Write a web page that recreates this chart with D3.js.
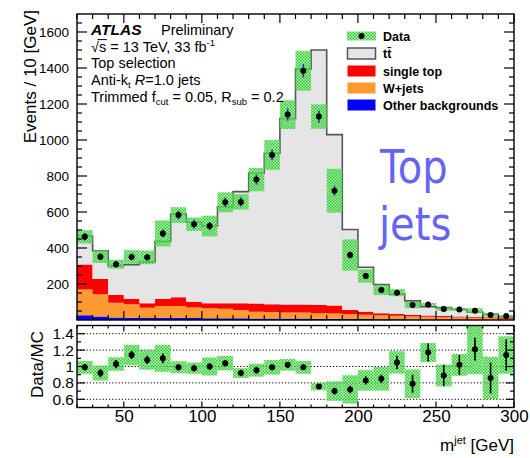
<!DOCTYPE html>
<html>
<head>
<meta charset="utf-8">
<script src="https://cdn.jsdelivr.net/npm/d3@7"></script>
<style>
  body { margin: 0; background: #fff; }
  svg { display: block; }
  text { font-family: "Liberation Sans", Arial, Helvetica, sans-serif; fill: #000; }
</style>
</head>
<body>
<svg id="chart" width="530" height="458"></svg>
<script>
// Large-R jet mass, top selection: 10 GeV bins from 20 to 300 GeV
const binLow = [20, 30, 40, 50, 60, 70, 80, 90, 100, 110, 120, 130, 140, 150,
                160, 170, 180, 190, 200, 210, 220, 230, 240, 250, 260, 270, 280, 290];
const binWidth = 10;

// Observed events per bin and statistical uncertainty
const dataCounts = [462, 352, 310, 350, 348, 481, 583, 532, 522, 654, 656, 780, 917, 1141,
                    1385, 1130, 718, 361, 244, 167, 152, 84, 86, 61, 59, 52, 28, 22];
const dataErr = [21, 19, 18, 19, 19, 22, 24, 23, 23, 26, 26, 28, 30, 34,
                 37, 34, 27, 19, 16, 13, 12, 9, 9, 8, 8, 7, 5, 5];
// Relative systematic uncertainty (hatched band)
const systFrac = [0.08, 0.10, 0.08, 0.11, 0.11, 0.15, 0.075, 0.07, 0.11, 0.085, 0.065, 0.083, 0.09, 0.07,
                  0.08, 0.06, 0.17, 0.24, 0.15, 0.17, 0.13, 0.22, 0.10, 0.15, 0.13, 0.25, 0.30, 0.20];

// Simulated processes (stacked bottom to top: other, W+jets, single top, ttbar)
const otherBkg = [26, 20, 14, 12, 11, 12, 12, 11, 10, 10, 10, 9, 9, 8,
                  8, 7, 7, 6, 5, 4, 4, 3, 3, 3, 2, 2, 2, 1];
const wJets = [144, 123, 82, 75, 57, 66, 66, 59, 55, 52, 45, 37, 36, 34,
               34, 31, 29, 26, 24, 22, 20, 17, 15, 13, 12, 10, 9, 6];
const singleTop = [139, 85, 43, 30, 25, 39, 48, 32, 28, 31, 38, 46, 43, 44,
                   44, 45, 45, 24, 17, 11, 10, 8, 7, 6, 5, 5, 4, 5];
const ttbar = [158, 157, 163, 190, 229, 320, 463, 441, 429, 536, 620, 725, 838, 1033,
               1309, 1417, 949, 447, 247, 160, 111, 78, 49, 47, 39, 26, 18, 7];

// Data / MC ratio and its statistical uncertainty
const ratio = [0.99, 0.92, 1.03, 1.14, 1.08, 1.10, 0.99, 0.98, 1.00, 1.04, 0.92, 0.955, 0.99, 1.02,
               0.99, 0.755, 0.70, 0.72, 0.83, 0.85, 1.05, 0.79, 1.17, 0.89, 1.02, 1.21, 0.86, 1.14];
const ratioErr = [0.04, 0.05, 0.05, 0.05, 0.05, 0.06, 0.04, 0.04, 0.04, 0.04, 0.04, 0.04, 0.035, 0.035,
                  0.03, 0.03, 0.04, 0.045, 0.05, 0.05, 0.08, 0.11, 0.11, 0.13, 0.12, 0.14, 0.19, 0.19];

// Axis ticks
const xMajorTicks = [50, 100, 150, 200, 250, 300];
const yMainTicks = [200, 400, 600, 800, 1000, 1200, 1400, 1600];
const yRatioTicks = [0.6, 0.8, 1, 1.2, 1.4];
const yRatioLabels = ["0.6", "0.8", "1", "1.2", "1.4"];

const processes = [
  { name: "Other backgrounds", values: otherBkg, color: "#0000ff" },
  { name: "W+jets", values: wJets, color: "#ff9a33" },
  { name: "single top", values: singleTop, color: "#ff0000" },
  { name: "ttbar", values: ttbar, color: "#e5e5e5" }
];

const svg = d3.select("#chart");
const X0 = 77, X1 = 514;
const MAIN_TOP = 14, MAIN_BOT = 320;
const RAT_TOP = 325.5, RAT_BOT = 407.5;

const x = d3.scaleLinear().domain([20, 300]).range([X0, X1]);
const y = d3.scaleLinear().domain([0, 1700]).range([MAIN_BOT, MAIN_TOP]);
const yr = d3.scaleLinear().domain([0.5, 1.5]).range([RAT_BOT, RAT_TOP]);

const defs = svg.append("defs");
const pat = defs.append("pattern").attr("id", "hatch")
  .attr("width", 3).attr("height", 3).attr("patternUnits", "userSpaceOnUse");
pat.append("rect").attr("width", 3).attr("height", 3).attr("fill", "rgba(150,235,150,0.6)");
pat.append("rect").attr("width", 1.5).attr("height", 1.5).attr("fill", "#27cc27");
pat.append("rect").attr("x", 1.5).attr("y", 1.5).attr("width", 1.5).attr("height", 1.5).attr("fill", "#27cc27");

defs.append("clipPath").attr("id", "clipMain").append("rect")
  .attr("x", X0).attr("y", MAIN_TOP).attr("width", X1 - X0).attr("height", MAIN_BOT - MAIN_TOP);
defs.append("clipPath").attr("id", "clipRatio").append("rect")
  .attr("x", X0).attr("y", RAT_TOP).attr("width", X1 - X0).attr("height", RAT_BOT - RAT_TOP);

// ---------- main pad ----------
const main = svg.append("g").attr("clip-path", "url(#clipMain)");

// cumulative stack
const stackRows = binLow.map((b, i) => {
  const row = { low: b };
  processes.forEach(p => { row[p.name] = p.values[i]; });
  return row;
});
const stacked = d3.stack().keys(processes.map(p => p.name))(stackRows);

function stepPoints(layer) {
  const pts = layer.map((d, i) => ({ x: binLow[i], y0: d[0], y1: d[1] }));
  const last = pts[pts.length - 1];
  pts.push({ x: binLow[binLow.length - 1] + binWidth, y0: last.y0, y1: last.y1 });
  return pts;
}

const area = d3.area().curve(d3.curveStepAfter)
  .x(d => x(d.x)).y0(d => y(d.y0)).y1(d => y(d.y1));

stacked.forEach((layer, k) => {
  main.append("path").attr("d", area(stepPoints(layer)))
    .attr("fill", processes[k].color).attr("stroke", "none");
});

// total prediction outline
const totalLayer = stacked[stacked.length - 1];
const outline = d3.line().curve(d3.curveStepAfter).x(d => x(d.x)).y(d => y(d.y1));
main.append("path").attr("d", outline(stepPoints(totalLayer)))
  .attr("fill", "none").attr("stroke", "#555").attr("stroke-width", 1.6);

// data uncertainty band
main.selectAll("rect.band").data(dataCounts).join("rect")
  .attr("class", "band")
  .attr("x", (d, i) => x(binLow[i]))
  .attr("width", (d, i) => x(binLow[i] + binWidth) - x(binLow[i]))
  .attr("y", (d, i) => y(d * (1 + systFrac[i])))
  .attr("height", (d, i) => y(d * (1 - systFrac[i])) - y(d * (1 + systFrac[i])))
  .attr("fill", "url(#hatch)");

// ---------- ratio pad ----------
const rat = svg.append("g").attr("clip-path", "url(#clipRatio)");
rat.selectAll("line.grid").data(yRatioTicks).join("line")
  .attr("x1", X0).attr("x2", X1).attr("y1", d => yr(d)).attr("y2", d => yr(d))
  .attr("stroke", "#000").attr("stroke-width", 1).attr("stroke-dasharray", "1.2,2");

rat.selectAll("rect.band").data(ratio).join("rect")
  .attr("x", (d, i) => x(binLow[i]))
  .attr("width", (d, i) => x(binLow[i] + binWidth) - x(binLow[i]))
  .attr("y", (d, i) => yr(d * (1 + systFrac[i])))
  .attr("height", (d, i) => yr(d * (1 - systFrac[i])) - yr(d * (1 + systFrac[i])))
  .attr("fill", "url(#hatch)");

// ---------- axes: ROOT style inward ticks on all sides ----------
function ticksX(g, top, bottom, majLen, minLen, minorVals) {
  minorVals.forEach(v => {
    const isMaj = xMajorTicks.includes(v);
    const L = isMaj ? majLen : minLen;
    g.append("line").attr("x1", x(v)).attr("x2", x(v)).attr("y1", bottom).attr("y2", bottom - L);
    g.append("line").attr("x1", x(v)).attr("x2", x(v)).attr("y1", top).attr("y2", top + L);
  });
}
function ticksY(g, scale, vals, majVals, majLen, minLen) {
  vals.forEach(v => {
    const isMaj = majVals.some(m => Math.abs(m - v) < 1e-6);
    const L = isMaj ? majLen : minLen;
    const yy = scale(v);
    g.append("line").attr("x1", X0).attr("x2", X0 + L).attr("y1", yy).attr("y2", yy);
    g.append("line").attr("x1", X1).attr("x2", X1 - L).attr("y1", yy).attr("y2", yy);
  });
}
const axes = svg.append("g").attr("stroke", "#000").attr("stroke-width", 1.2);
const minorX = binLow.concat([300]);
ticksX(axes, MAIN_TOP, MAIN_BOT, 9, 5, minorX);
ticksX(axes, RAT_TOP, RAT_BOT, 6, 3, minorX);
ticksY(axes, y, d3.range(50, 1700, 50), yMainTicks, 10, 5);
ticksY(axes, yr, [0.6, 0.7, 0.8, 0.9, 1.0, 1.1, 1.2, 1.3, 1.4], yRatioTicks, 8, 4);

// frames
svg.append("rect").attr("x", X0).attr("y", MAIN_TOP).attr("width", X1 - X0).attr("height", MAIN_BOT - MAIN_TOP)
  .attr("fill", "none").attr("stroke", "#000").attr("stroke-width", 1.4);
svg.append("rect").attr("x", X0).attr("y", RAT_TOP).attr("width", X1 - X0).attr("height", RAT_BOT - RAT_TOP)
  .attr("fill", "none").attr("stroke", "#000").attr("stroke-width", 1.4);

// tick labels via d3 axes (labels only; ticks are drawn above)
const yAxisMain = d3.axisLeft(y).tickValues(yMainTicks).tickSize(0).tickPadding(8).tickFormat(d3.format("d"));
svg.append("g").attr("transform", `translate(${X0},0)`).call(yAxisMain)
  .call(g => g.select(".domain").remove())
  .selectAll("text").attr("font-size", 13.5).attr("font-family", "Liberation Sans, Arial, sans-serif").attr("fill", "#111");

const yAxisRatio = d3.axisLeft(yr).tickValues(yRatioTicks).tickSize(0).tickPadding(3)
  .tickFormat((d, i) => yRatioLabels[i]);
svg.append("g").attr("transform", `translate(${X0},0)`).call(yAxisRatio)
  .call(g => g.select(".domain").remove())
  .selectAll("text").attr("font-size", 15.5).attr("font-family", "Liberation Sans, Arial, sans-serif").attr("fill", "#111");

const xAxis = d3.axisBottom(x).tickValues(xMajorTicks).tickSize(0).tickPadding(2).tickFormat(d3.format("d"));
svg.append("g").attr("transform", `translate(0,${RAT_BOT})`).call(xAxis)
  .call(g => g.select(".domain").remove())
  .selectAll("text").attr("font-size", 17).attr("font-family", "Liberation Sans, Arial, sans-serif").attr("fill", "#111");

// ---------- data points ----------
const pts = svg.append("g");
pts.selectAll("line.err").data(dataCounts).join("line")
  .attr("x1", (d, i) => x(binLow[i] + binWidth / 2)).attr("x2", (d, i) => x(binLow[i] + binWidth / 2))
  .attr("y1", (d, i) => y(d - dataErr[i])).attr("y2", (d, i) => y(d + dataErr[i]))
  .attr("stroke", "#2038b8").attr("stroke-width", 1.6);
pts.selectAll("circle.pt").data(dataCounts).join("circle")
  .attr("cx", (d, i) => x(binLow[i] + binWidth / 2)).attr("cy", d => y(d))
  .attr("r", 3).attr("fill", "#000");

const rpts = svg.append("g").attr("clip-path", "url(#clipRatio)");
rpts.selectAll("line").data(ratio).join("line")
  .attr("x1", (d, i) => x(binLow[i] + binWidth / 2)).attr("x2", (d, i) => x(binLow[i] + binWidth / 2))
  .attr("y1", (d, i) => yr(d - ratioErr[i])).attr("y2", (d, i) => yr(d + ratioErr[i]))
  .attr("stroke", "#000").attr("stroke-width", 1.6);
rpts.selectAll("circle").data(ratio).join("circle")
  .attr("cx", (d, i) => x(binLow[i] + binWidth / 2)).attr("cy", d => yr(d))
  .attr("r", 3).attr("fill", "#000");

// ---------- titles ----------
svg.append("text").attr("transform", "translate(36,10) rotate(-90)")
  .attr("text-anchor", "end").attr("font-size", 17).text("Events / 10 [GeV]");
svg.append("text").attr("transform", "translate(43,331) rotate(-90)")
  .attr("text-anchor", "end").attr("font-size", 17).text("Data/MC");

const xt = svg.append("text").attr("x", X1).attr("y", 451).attr("text-anchor", "end").attr("font-size", 17);
xt.append("tspan").text("m");
xt.append("tspan").attr("font-size", 11).attr("dy", -7).text("jet");
xt.append("tspan").attr("dy", 7).text(" [GeV]");

// ---------- ATLAS label block ----------
const lab = svg.append("g").attr("font-size", 14.5);
lab.append("text").attr("x", 91).attr("y", 35).attr("font-size", 15.5)
  .attr("font-weight", "bold").attr("font-style", "italic").text("ATLAS");
lab.append("text").attr("x", 161).attr("y", 35).text("Preliminary");

const l2 = lab.append("text").attr("x", 91).attr("y", 51.5);
l2.append("tspan").text("\u221As");
l2.append("tspan").text(" = 13 TeV, 33 fb");
l2.append("tspan").attr("font-size", 9.5).attr("dy", -6).text("-1");
// bar of the square root extending over "s"
{
  const node = l2.node();
  const s0 = node.getStartPositionOfChar(0).x;
  const s1 = node.getEndPositionOfChar(1).x;
  const rootEnd = node.getEndPositionOfChar(0).x;
  lab.append("line").attr("x1", rootEnd - 1.5).attr("x2", s1 + 0.5).attr("y1", 39.6).attr("y2", 39.6)
    .attr("stroke", "#000").attr("stroke-width", 1);
}

lab.append("text").attr("x", 91).attr("y", 68).text("Top selection");

const l4 = lab.append("text").attr("x", 91).attr("y", 84.5);
l4.append("tspan").text("Anti-k");
l4.append("tspan").attr("font-size", 9.5).attr("dy", 3).text("t");
l4.append("tspan").attr("dy", -3).text(" ");
l4.append("tspan").attr("font-style", "italic").text("R");
l4.append("tspan").text("=1.0 jets");

const l5 = lab.append("text").attr("x", 91).attr("y", 101.5);
l5.append("tspan").text("Trimmed f");
l5.append("tspan").attr("font-size", 9.5).attr("dy", 3).text("cut");
l5.append("tspan").attr("dy", -3).text(" = 0.05, R");
l5.append("tspan").attr("font-size", 9.5).attr("dy", 3).text("sub");
l5.append("tspan").attr("dy", -3).text(" = 0.2");

// ---------- legend ----------
const legendItems = [
  { label: "Data", kind: "data" },
  { label: "t\u0074\u0304", kind: "box", color: "#e5e5e5", stroke: "#555" },
  { label: "single top", kind: "box", color: "#ff0000" },
  { label: "W+jets", kind: "box", color: "#ff9a33" },
  { label: "Other backgrounds", kind: "box", color: "#0000ff" }
];
const legY = [36, 53.5, 71, 88, 105];
const leg = svg.append("g");
legendItems.forEach((it, i) => {
  const cy = legY[i];
  if (it.kind === "data") {
    leg.append("rect").attr("x", 347).attr("y", cy - 4.5).attr("width", 29).attr("height", 9).attr("fill", "url(#hatch)");
    leg.append("circle").attr("cx", 361.5).attr("cy", cy).attr("r", 3).attr("fill", "#000");
  } else {
    leg.append("rect").attr("x", 347.5).attr("y", cy - 5.5).attr("width", 28).attr("height", 11)
      .attr("fill", it.color).attr("stroke", it.stroke || "none").attr("stroke-width", 1.5);
  }
  leg.append("text").attr("x", 383).attr("y", cy + 4.5).attr("font-size", 12.5).attr("font-weight", "bold").text(it.label);
});

// ---------- annotation ----------
const ann = svg.append("g");
[["Top", 380, 183], ["jets", 379, 240]].forEach(([t, ax, ay]) => {
  ann.append("text").attr("transform", `translate(${ax},${ay}) scale(0.87,1)`)
    .attr("font-size", 46).style("fill", "#6464f5")
    .style("font-family", "DejaVu Sans, sans-serif").text(t);
});
</script>
</body>
</html>
